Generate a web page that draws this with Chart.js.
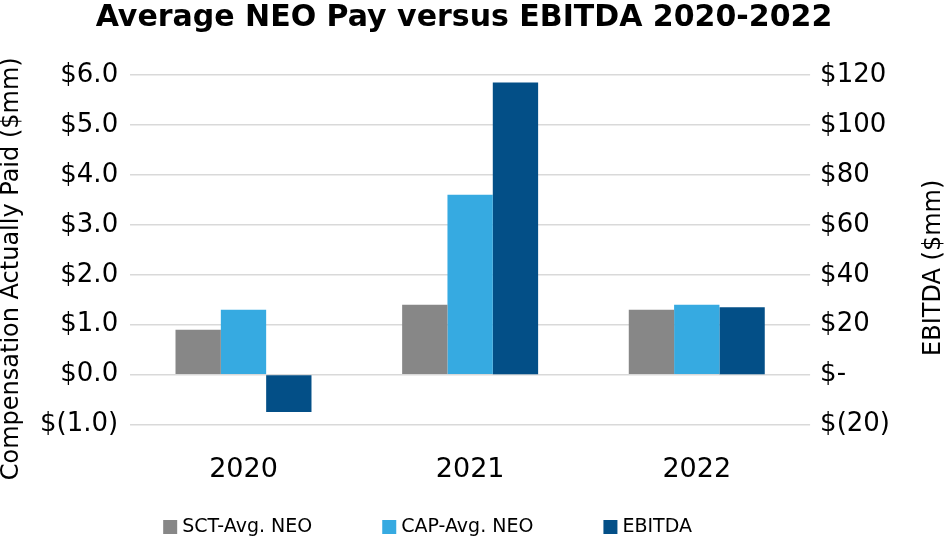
<!DOCTYPE html>
<html>
<head>
<meta charset="utf-8">
<script src="https://cdn.jsdelivr.net/npm/chart.js@4.4.0/dist/chart.umd.min.js"></script>
<style>
  html, body { margin: 0; padding: 0; background: #fff; }
  #wrap { width: 947px; height: 537px; }
</style>
</head>
<body>
<div id="wrap"><canvas id="payChart"></canvas></div>
<script>
const years = ['2020', '2021', '2022'];
const sctAvgNeo = [0.9, 1.4, 1.3];
const capAvgNeo = [1.3, 3.6, 1.4];
const ebitda = [-15, 117, 27];

const fontFamily = '"DejaVu Sans", sans-serif';

// axis titles drawn by hand so the right one reads bottom-to-top
const axisTitles = {
  id: 'axisTitles',
  afterDraw(chart) {
    const { ctx, chartArea } = chart;
    const midY = (chartArea.top + chartArea.bottom) / 2;
    ctx.save();
    ctx.fillStyle = '#000';
    ctx.font = '24px ' + fontFamily;
    ctx.textAlign = 'center';
    ctx.textBaseline = 'middle';
    ctx.translate(12, midY + 19);
    ctx.rotate(-Math.PI / 2);
    ctx.fillText('Compensation Actually Paid ($mm)', 0, 0);
    ctx.restore();

    ctx.save();
    ctx.fillStyle = '#000';
    ctx.font = '24px ' + fontFamily;
    ctx.textAlign = 'center';
    ctx.textBaseline = 'middle';
    ctx.translate(934, midY + 18);
    ctx.rotate(-Math.PI / 2);
    ctx.fillText('EBITDA ($mm)', 0, 0);
    ctx.restore();
  }
};

// legend at the bottom, wide gaps between the items
const bottomLegend = {
  id: 'bottomLegend',
  afterDraw(chart) {
    const { ctx, chartArea } = chart;
    const y = chart.height - 10;
    let x = chartArea.left + 33;
    ctx.save();
    ctx.font = '19px ' + fontFamily;
    ctx.textBaseline = 'middle';
    ctx.textAlign = 'left';
    chart.data.datasets.forEach(ds => {
      ctx.fillStyle = ds.backgroundColor;
      ctx.fillRect(x, y - 7, 14, 14);
      ctx.fillStyle = '#000';
      ctx.fillText(ds.label, x + 19, y);
      x += 19 + ctx.measureText(ds.label).width + 70;
    });
    ctx.restore();
  }
};

const ctx = document.getElementById('payChart').getContext('2d');

new Chart(ctx, {
  type: 'bar',
  data: {
    labels: years,
    datasets: [{
      label: 'SCT-Avg. NEO',
      data: sctAvgNeo,
      backgroundColor: '#878787',
      yAxisID: 'y'
    }, {
      label: 'CAP-Avg. NEO',
      data: capAvgNeo,
      backgroundColor: '#36AAE1',
      yAxisID: 'y'
    }, {
      label: 'EBITDA',
      data: ebitda,
      backgroundColor: '#034F87',
      yAxisID: 'y1'
    }]
  },
  options: {
    responsive: true,
    maintainAspectRatio: false,
    animation: false,
    layout: {
      padding: { left: 28, right: 47, top: 0, bottom: 22 }
    },
    datasets: {
      bar: { categoryPercentage: 0.6, barPercentage: 1.0 }
    },
    scales: {
      x: {
        grid: { display: false, drawTicks: false },
        border: { display: false },
        ticks: {
          color: '#000',
          font: { family: fontFamily, size: 27 },
          padding: 29
        }
      },
      y: {
        position: 'left',
        min: -1,
        max: 6,
        grid: { color: '#d9d9d9', lineWidth: 1.5, drawTicks: false },
        border: { display: false },
        ticks: {
          stepSize: 1,
          color: '#000',
          padding: 12,
          font: { family: fontFamily, size: 26 },
          callback: v => v < 0 ? '$(' + Math.abs(v).toFixed(1) + ')' : '$' + v.toFixed(1)
        }
      },
      y1: {
        position: 'right',
        min: -20,
        max: 120,
        grid: { drawOnChartArea: false, drawTicks: false },
        border: { display: false },
        ticks: {
          stepSize: 20,
          color: '#000',
          padding: 10,
          font: { family: fontFamily, size: 26 },
          callback: v => v === 0 ? '$-' : (v < 0 ? '$(' + Math.abs(v) + ')' : '$' + v)
        }
      }
    },
    plugins: {
      title: {
        display: true,
        text: 'Average NEO Pay versus EBITDA 2020-2022',
        color: '#000',
        font: { family: fontFamily, size: 30, weight: 'bold' },
        padding: { top: 0, bottom: 39 }
      },
      legend: { display: false },
      tooltip: { enabled: false }
    }
  },
  plugins: [axisTitles, bottomLegend]
});
</script>
</body>
</html>
